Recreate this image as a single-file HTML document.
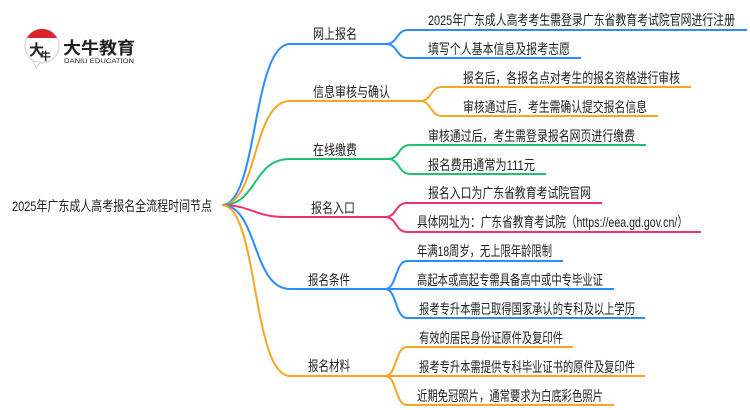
<!DOCTYPE html>
<html><head><meta charset="utf-8"><style>
html,body{margin:0;padding:0;background:#fff;}
svg{display:block;}
text{font-family:"Liberation Sans","Noto Sans CJK SC",sans-serif;fill:#222;font-size:14px;}
</style></head><body>
<svg width="750" height="410" viewBox="0 0 750 410" xmlns="http://www.w3.org/2000/svg">
<circle cx="42" cy="46" r="17" fill="#fff" stroke="#ccc" stroke-width="1"/>
<path d="M27,38 A17,17 0 0 1 57,38 Z" fill="#d9232e"/>
<path d="M33,61 L36,68 L40,62 Z" fill="#fff" stroke="#ccc" stroke-width="0.8"/>
<text x="29" y="55" style="font-size:15px;font-weight:bold;fill:#222">大</text>
<text x="40" y="60" style="font-size:11px;font-weight:bold;fill:#222">牛</text>
<text x="63" y="54" style="font-size:17px;font-weight:bold;fill:#222" textLength="72" lengthAdjust="spacingAndGlyphs">大牛教育</text>
<text x="64" y="63" style="font-size:6px;fill:#222" textLength="70" lengthAdjust="spacingAndGlyphs">DANIU EDUCATION</text>

<g fill="none" stroke-width="2">
<path d="M222,205 C258,205 252,44 290,44 L386,44" stroke="#2b8cff"/>
<path d="M222,205 C258,205 252,101 290,101 L420,101" stroke="#f5a623"/>
<path d="M222,205 C258,205 252,159 290,159 L388,159" stroke="#1cc172"/>
<path d="M222,205 C250,205 255,217 285,217 L385,217" stroke="#f0306f"/>
<path d="M222,205 C258,205 252,289 290,289 L385,289" stroke="#2b8cff"/>
<path d="M222,205 C258,205 252,376 290,376 L385,376" stroke="#f5a623"/>
<path d="M386,44 C398,44 396,30 408,30 L747,30" stroke="#2b8cff"/>
<path d="M386,44 C398,44 396,58 408,58 L581,58" stroke="#2b8cff"/>
<path d="M420,101 C432,101 430,87 442,87 L691,87" stroke="#f5a623"/>
<path d="M420,101 C432,101 430,116 442,116 L658,116" stroke="#f5a623"/>
<path d="M388,159 C400,159 398,145 410,145 L646,145" stroke="#1cc172"/>
<path d="M388,159 C400,159 398,174 410,174 L546,174" stroke="#1cc172"/>
<path d="M385,217 C397,217 395,203 407,203 L602,203" stroke="#f0306f"/>
<path d="M385,217 C397,217 395,232 407,232 L701,232" stroke="#f0306f"/>
<path d="M385,289 C397,289 395,261 407,261 L563,261" stroke="#2b8cff"/>
<path d="M385,289 L614,289" stroke="#2b8cff"/>
<path d="M385,289 C397,289 395,318 407,318 L645,318" stroke="#2b8cff"/>
<path d="M385,376 C397,376 395,347 407,347 L573,347" stroke="#f5a623"/>
<path d="M385,376 L645,376" stroke="#f5a623"/>
<path d="M385,376 C397,376 395,405 407,405 L614,405" stroke="#f5a623"/>
</g>

<text x="12" y="211" textLength="200" lengthAdjust="spacingAndGlyphs">2025年广东成人高考报名全流程时间节点</text>

<text x="313" y="39" textLength="44" lengthAdjust="spacingAndGlyphs">网上报名</text>
<text x="313" y="97" textLength="77" lengthAdjust="spacingAndGlyphs">信息审核与确认</text>
<text x="313" y="155" textLength="44" lengthAdjust="spacingAndGlyphs">在线缴费</text>
<text x="311" y="213" textLength="44" lengthAdjust="spacingAndGlyphs">报名入口</text>
<text x="308" y="285" textLength="42" lengthAdjust="spacingAndGlyphs">报名条件</text>
<text x="308" y="371" textLength="42" lengthAdjust="spacingAndGlyphs">报名材料</text>

<text x="428" y="25" textLength="307" lengthAdjust="spacingAndGlyphs">2025年广东成人高考考生需登录广东省教育考试院官网进行注册</text>
<text x="428" y="54" textLength="142" lengthAdjust="spacingAndGlyphs">填写个人基本信息及报考志愿</text>
<text x="463" y="83" textLength="217" lengthAdjust="spacingAndGlyphs">报名后，各报名点对考生的报名资格进行审核</text>
<text x="463" y="112" textLength="184" lengthAdjust="spacingAndGlyphs">审核通过后，考生需确认提交报名信息</text>
<text x="428" y="141" textLength="207" lengthAdjust="spacingAndGlyphs">审核通过后，考生需登录报名网页进行缴费</text>
<text x="428" y="170" textLength="107" lengthAdjust="spacingAndGlyphs">报名费用通常为111元</text>
<text x="428" y="198" textLength="163" lengthAdjust="spacingAndGlyphs">报名入口为广东省教育考试院官网</text>
<text x="417" y="227" textLength="271" lengthAdjust="spacingAndGlyphs">具体网址为：广东省教育考试院（https://eea.gd.gov.cn/）</text>
<text x="417" y="256" textLength="135" lengthAdjust="spacingAndGlyphs">年满18周岁，无上限年龄限制</text>
<text x="417" y="285" textLength="186" lengthAdjust="spacingAndGlyphs">高起本或高起专需具备高中或中专毕业证</text>
<text x="419" y="314" textLength="216" lengthAdjust="spacingAndGlyphs">报考专升本需已取得国家承认的专科及以上学历</text>
<text x="419" y="343" textLength="144" lengthAdjust="spacingAndGlyphs">有效的居民身份证原件及复印件</text>
<text x="419" y="372" textLength="216" lengthAdjust="spacingAndGlyphs">报考专升本需提供专科毕业证书的原件及复印件</text>
<text x="417" y="401" textLength="186" lengthAdjust="spacingAndGlyphs">近期免冠照片，通常要求为白底彩色照片</text>
</svg>
</body></html>
